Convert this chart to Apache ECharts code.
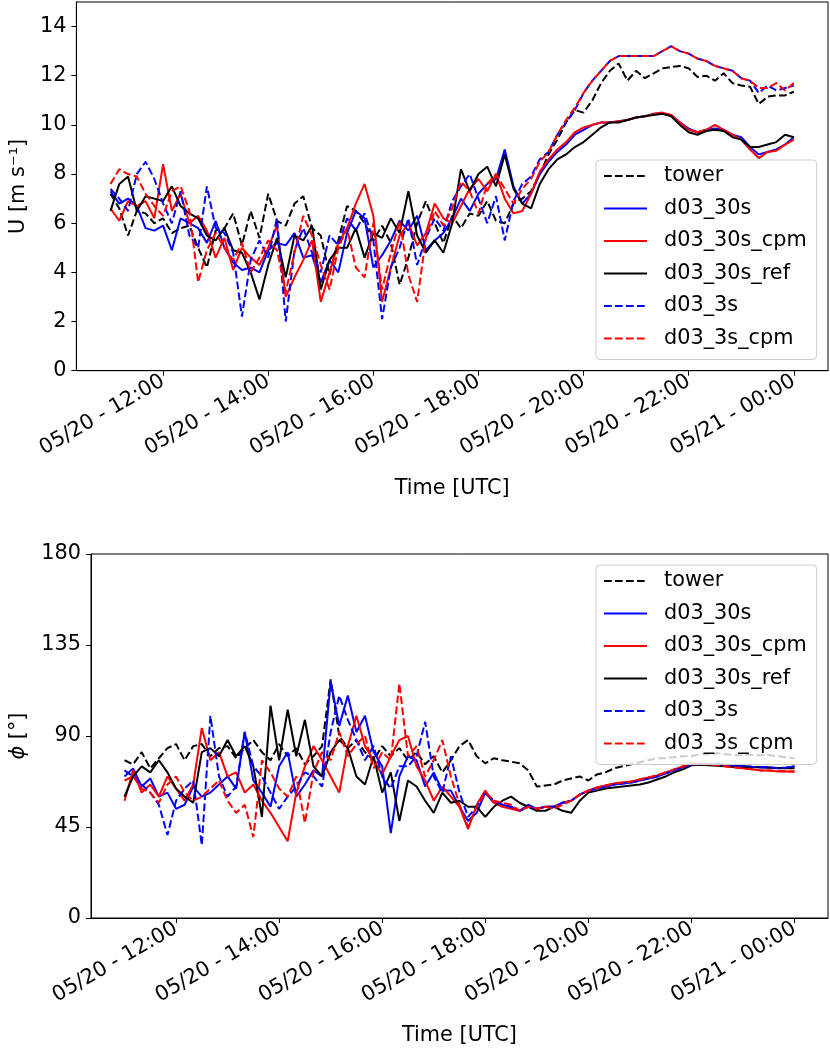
<!DOCTYPE html>
<html>
<head>
<meta charset="utf-8">
<script src="https://cdn.jsdelivr.net/npm/echarts@6/dist/echarts.min.js"></script>
<style>
html,body{margin:0;padding:0;background:#fff;}
#chart{width:830px;height:1049px;}
</style>
</head>
<body>
<div id="chart"></div>
<script>
// ---- sample times: 10-min steps from 05/20 11:00 to 05/21 00:00 (hours since 05/20 00:00)
const START_HOUR = 11;
const STEP_MIN = 10;
const N_SAMPLES = 79;

// ---- series names
const seriesNames = ['tower', 'd03_30s', 'd03_30s_cpm', 'd03_30s_ref', 'd03_3s', 'd03_3s_cpm'];

// ---- x tick labels (hours)
const xTickHours = [12, 14, 16, 18, 20, 22, 24];
const xTickLabels = ['05/20 - 12:00', '05/20 - 14:00', '05/20 - 16:00', '05/20 - 18:00', '05/20 - 20:00', '05/20 - 22:00', '05/21 - 00:00'];
const uTicks = [0, 2, 4, 6, 8, 10, 12, 14];
const phiTicks = [0, 45, 90, 135, 180];

// ---- wind speed U [m/s]
const U_tower = [
  7.2, 6.6, 5.5, 6.5, 6.4, 6.0, 6.2, 5.6, 5.8, 5.9,
  5.0, 4.2, 5.7, 5.8, 6.4, 5.1, 6.5, 5.4, 7.2, 6.1,
  5.9, 6.8, 7.1, 5.8, 5.5, 3.9, 5.3, 6.7, 6.5, 6.0,
  5.3, 5.9, 5.2, 3.5, 4.6, 6.0, 6.9, 6.0, 5.2, 6.3,
  5.8, 6.4, 6.3, 6.9, 6.1, 6.0, 6.8, 7.0, 7.3, 8.0,
  8.8, 9.4, 10.1, 10.6, 10.5, 11.0, 11.7, 12.2, 12.5, 11.8,
  12.2, 11.9, 12.1, 12.3, 12.35, 12.4, 12.3, 11.95, 12.0, 11.8,
  12.1, 11.7, 11.6, 11.55, 10.85, 11.15, 11.2, 11.2, 11.35
];
const U_30s = [
  7.3, 6.8, 7.0, 6.7, 5.8, 5.7, 5.9, 4.9, 6.2, 6.0,
  5.8, 5.2, 6.1, 5.0, 4.4, 4.1, 4.2, 4.0, 4.9, 5.2,
  5.1, 5.6, 4.6, 4.7, 3.6, 4.5, 4.0, 5.6, 6.5, 6.2,
  4.2, 4.7, 5.3, 6.1, 5.7, 6.3, 4.9, 5.3, 5.6, 6.2,
  7.0, 6.5, 7.2, 7.6, 7.8, 9.0, 7.5, 6.8, 7.2, 8.0,
  8.5, 8.9, 9.2, 9.6, 9.8, 10.0, 10.1, 10.1, 10.15, 10.2,
  10.3, 10.35, 10.45, 10.45, 10.4, 10.1, 9.85, 9.7, 9.8, 9.85,
  9.8, 9.6, 9.5, 9.1, 8.8, 8.9, 9.0, 9.2, 9.5
];
const U_30s_cpm = [
  6.6, 6.1, 6.9, 6.7, 6.9, 6.2, 8.4, 6.5, 7.2, 6.0,
  6.3, 5.7, 4.6, 5.4, 4.1, 5.0, 4.6, 4.3, 5.0, 5.9,
  3.0, 3.8, 4.5, 5.3, 2.8, 4.0, 5.2, 5.8, 6.8, 7.6,
  6.3, 2.8, 4.2, 5.5, 6.0, 5.1, 5.6, 6.8, 6.2, 6.0,
  6.7, 7.4, 7.8, 7.3, 8.0, 7.0, 6.4, 6.5, 7.2, 8.1,
  8.6, 9.0, 9.3, 9.7, 9.9, 10.0, 10.1, 10.1, 10.15, 10.2,
  10.3, 10.35, 10.45, 10.5, 10.4, 10.1, 9.8, 9.7, 9.8, 10.0,
  9.8, 9.6, 9.4, 9.0, 8.65, 8.9, 8.95, 9.2, 9.4
];
const U_30s_ref = [
  6.5, 7.6, 7.9, 6.5, 7.1, 7.0, 6.9, 7.5, 6.7, 6.4,
  6.2, 5.5, 5.3, 5.8, 4.9, 4.8, 4.0, 2.9, 4.3, 5.4,
  3.8, 5.5, 5.3, 5.9, 3.3, 4.5, 5.0, 5.0, 5.8, 4.6,
  5.6, 5.4, 6.2, 5.6, 7.3, 5.5, 4.8, 5.3, 4.8, 6.0,
  8.2, 7.3, 8.0, 8.3, 7.5, 8.8, 7.4, 6.8, 6.6, 7.6,
  8.2, 8.6, 8.8, 9.1, 9.3, 9.6, 9.9, 10.1, 10.1, 10.2,
  10.3, 10.35, 10.4, 10.45, 10.35, 10.0, 9.7, 9.6, 9.75, 9.8,
  9.75, 9.5, 9.4, 9.1, 9.1, 9.2, 9.3, 9.6, 9.5
];
const U_3s = [
  7.4, 7.0, 6.5, 8.0, 8.5, 7.8, 6.8, 6.0, 7.3, 5.5,
  5.0, 7.5, 5.8, 5.6, 4.8, 2.2, 4.5, 5.3, 4.6, 6.2,
  2.0, 4.9, 5.8, 4.8, 4.0, 5.5, 5.1, 6.2, 5.7, 6.4,
  5.3, 2.1, 4.2, 5.0, 6.2, 4.3, 5.4, 6.2, 5.7, 6.9,
  7.5, 8.0, 7.0, 6.0, 7.1, 5.3, 6.9, 7.6, 7.9, 8.6,
  8.9, 9.6, 10.1, 10.6, 11.3, 11.8, 12.2, 12.6, 12.8, 12.8,
  12.8, 12.8, 12.8, 13.0, 13.2, 13.0, 12.9, 12.7, 12.6, 12.4,
  12.3, 12.2, 11.9, 11.8, 11.3, 11.6, 11.4, 11.5, 11.6
];
const U_3s_cpm = [
  7.6, 8.2, 8.0, 7.9, 7.2, 6.7, 6.3, 7.3, 7.5, 6.5,
  3.6, 4.9, 5.6, 5.0, 4.5, 5.2, 4.0, 4.6, 5.3, 4.9,
  3.2, 4.8, 6.3, 5.5, 4.3, 3.3, 5.0, 5.8, 4.2, 3.8,
  6.0, 3.3, 4.8, 6.1, 3.9, 2.8, 5.4, 6.5, 5.9, 6.6,
  7.7, 7.3, 6.4, 7.6, 8.0, 7.4, 6.8, 7.4, 7.8, 8.5,
  8.9, 9.6, 10.2, 10.7, 11.3, 11.8, 12.2, 12.6, 12.8, 12.8,
  12.8, 12.8, 12.8, 13.0, 13.2, 13.0, 12.9, 12.7, 12.6, 12.4,
  12.3, 12.2, 11.9, 11.8, 11.5, 11.5, 11.7, 11.4, 11.7
];

// ---- wind direction phi [deg]
const PHI_tower = [
  78, 76, 82, 74, 79, 84, 86, 78, 85, 86,
  80, 84, 85, 79, 84, 88, 82, 78, 86, 80,
  84, 76, 80, 85, 118, 90, 84, 88, 82, 78,
  85, 80, 84, 78, 82, 76, 80, 72, 78, 85,
  88, 80, 76.5, 79, 78, 77.3, 76.5, 73, 65, 65.5,
  66, 68, 69, 70, 68, 71, 72, 74, 75, 76,
  77, 78, 79, 79, 79.5, 80, 80, 81, 81, 81.5,
  81, 80.5, 80.6, 80.6, 80.5, 80.6, 80, 79.5, 79
];
const PHI_30s = [
  70, 74, 65, 69, 60, 62, 54, 56, 65, 60,
  62, 66, 70, 64, 92, 68, 62, 55, 75, 82,
  60, 66, 73, 70, 117, 95, 110, 92, 100, 82,
  75, 42, 70, 80, 78, 65, 72, 63, 63, 55,
  48, 52, 62, 57, 56, 55, 53, 56, 54, 55,
  55, 57, 58, 61, 63, 64, 65, 66, 66.5, 67,
  68, 69, 70, 71.5, 73, 74.5, 76, 76.2, 76.2, 76,
  75.8, 75.5, 75.2, 74.8, 74.5, 74.5, 74, 74.2, 75
];
const PHI_30s_cpm = [
  58, 73, 62, 66, 60, 70, 64, 58, 66, 94,
  78, 82, 70, 72, 62, 66, 58, 52, 45, 38,
  62, 75, 85, 78, 70, 62, 85, 100, 85, 78,
  71, 80, 88, 90, 75, 68, 58, 65, 60, 55,
  44, 56, 63, 57, 55, 54, 53, 55, 54, 55,
  55, 57, 58, 61, 63, 64.5, 65.5, 66.5, 67, 67.5,
  68.5, 69.5, 70.5, 72, 73.5, 75, 76, 76, 76, 75.5,
  75, 74.5, 74, 73.5, 73, 73, 72.5, 72.5, 72.5
];
const PHI_30s_ref = [
  60, 70, 75, 72, 78, 72, 64, 60, 57, 82,
  84, 80, 88, 80, 85, 75, 50, 105, 78, 103,
  80, 98, 75, 70, 82, 88, 84, 70, 66, 80,
  62, 72, 48, 68, 65, 58, 52, 62, 57, 58,
  55, 55, 50, 55, 58, 60, 57, 55, 53, 53,
  55, 53, 52, 58, 62, 63, 64, 64.5, 65, 65.5,
  66, 67, 68.5, 70, 72, 73.5, 75.5, 75.8, 75.5, 75.3,
  75, 74.8, 74.8, 74.6, 74.5, 74.3, 74.2, 74, 74
];
const PHI_3s = [
  73, 70, 66, 62, 56, 41, 58, 64, 68, 36,
  100, 70, 60, 65, 92, 75, 70, 62, 54, 60,
  65, 72, 70, 65, 92, 110, 98, 88, 78, 85,
  70, 64, 75, 75, 80, 97, 70, 62, 80, 62,
  50, 55, 62, 58, 56, 55, 53, 55, 54, 55,
  55, 57, 58, 61, 63, 64, 65, 66, 66.5, 67,
  68, 69, 70, 71.5, 73, 74.5, 76, 76.2, 76.2, 76,
  75.8, 75.5, 75.2, 74.8, 74.5, 74.5, 74.2, 74.4, 75
];
const PHI_3s_cpm = [
  68, 70, 64, 62, 57, 66, 70, 62, 58, 60,
  64, 68, 58, 52, 56, 40, 78, 72, 64, 60,
  70, 47, 72, 82, 78, 92, 80, 86, 90, 74,
  82, 78, 116, 80, 85, 70, 78, 88, 70, 56,
  45, 55, 62, 58, 57, 56, 53, 55, 54, 55,
  54, 56, 58, 61, 63, 64.5, 65.5, 66.5, 67, 67.5,
  68.5, 69.5, 70.5, 72, 73.5, 75, 76, 76, 76, 75.5,
  75, 74.5, 74, 73.5, 73, 73, 72.8, 72.5, 72.5
];

const U_data = [U_tower, U_30s, U_30s_cpm, U_30s_ref, U_3s, U_3s_cpm];
const PHI_data = [PHI_tower, PHI_30s, PHI_30s_cpm, PHI_30s_ref, PHI_3s, PHI_3s_cpm];

// ---- styles
const FONT = 'DejaVu Sans';
const FS = 20.8;
const colors = ['#000000', '#0000ff', '#ff0000', '#000000', '#0000ff', '#ff0000'];
const dashed = [true, false, false, false, true, true];
const DASH = [7.7, 3.3];

const times = [];
for (let i = 0; i < N_SAMPLES; i++) times.push(START_HOUR + i * STEP_MIN / 60);

function xLabel(v) {
  const k = xTickHours.indexOf(Math.round(v));
  return k >= 0 ? xTickLabels[k] : '';
}

function makeXAxis(gridIndex) {
  return {
    type: 'value', gridIndex: gridIndex, min: 10.35, max: 24.65,
    name: 'Time [UTC]', nameLocation: 'middle', nameGap: 107,
    nameTextStyle: { fontFamily: FONT, fontSize: FS, color: '#000' },
    axisLine: { show: true, lineStyle: { color: '#000', width: 1 } },
    axisTick: { show: true, inside: false, length: 5, lineStyle: { color: '#000', width: 1 }, customValues: xTickHours },
    axisLabel: { show: true, rotate: 30, margin: 9, fontFamily: FONT, fontSize: FS, color: '#000', customValues: xTickHours, formatter: xLabel },
    splitLine: { show: false }
  };
}

function makeYAxis(gridIndex, max, ticks, name, gap, rich) {
  return {
    type: 'value', gridIndex: gridIndex, min: 0, max: max,
    name: name, nameLocation: 'middle', nameGap: gap, nameRotate: 90,
    nameTextStyle: { fontFamily: FONT, fontSize: FS, color: '#000', rich: rich },
    axisLine: { show: true, lineStyle: { color: '#000', width: 1 } },
    axisTick: { show: true, inside: false, length: 5, lineStyle: { color: '#000', width: 1 }, customValues: ticks },
    axisLabel: { show: true, margin: 10, fontFamily: FONT, fontSize: FS, color: '#000', customValues: ticks },
    splitLine: { show: false }
  };
}

function makeLegend(top) {
  return {
    orient: 'vertical', left: 596, top: top,
    data: seriesNames,
    itemWidth: 43, itemHeight: 14, itemGap: 6.5,
    padding: [3, 10, 8, 7],
    backgroundColor: 'rgba(255,255,255,0.8)',
    borderColor: '#cccccc', borderWidth: 1, borderRadius: 4,
    itemStyle: { color: 'rgba(0,0,0,0)', borderColor: 'rgba(0,0,0,0)', borderWidth: 0, opacity: 0 },
    textStyle: { fontFamily: FONT, fontSize: FS, color: '#000', lineHeight: 26, padding: [0, 0, 0, 12] },
    selectedMode: false
  };
}

const series = [];
[U_data, PHI_data].forEach(function (arrs, g) {
  arrs.forEach(function (vals, k) {
    series.push({
      name: seriesNames[k], type: 'line', xAxisIndex: g, yAxisIndex: g,
      data: vals.map(function (v, i) { return [times[i], v]; }),
      showSymbol: false, symbol: 'none', animation: false,
      lineStyle: { color: colors[k], width: 2, type: dashed[k] ? DASH : 'solid' },
      itemStyle: { color: colors[k] }
    });
  });
});

const chart = echarts.init(document.getElementById('chart'), null, { renderer: 'canvas' });
chart.setOption({
  animation: false,
  backgroundColor: '#ffffff',
  grid: [
    { left: 74, top: 2, width: 754, height: 368.7, show: true, borderColor: '#000', borderWidth: 1, containLabel: false },
    { left: 87, top: 554, width: 741, height: 364, show: true, borderColor: '#000', borderWidth: 1, containLabel: false }
  ],
  legend: [makeLegend(160), makeLegend(565)],
  xAxis: [makeXAxis(0), makeXAxis(1)],
  yAxis: [
    makeYAxis(0, 15, uTicks, 'U [m s\u207B\u00B9]', 46, {}),
    makeYAxis(1, 180, phiTicks, '{i|\u03D5} [\u00B0]', 62, { i: { fontFamily: FONT, fontSize: FS, fontStyle: 'italic', color: '#000' } })
  ],
  series: series
});
</script>
</body>
</html>
